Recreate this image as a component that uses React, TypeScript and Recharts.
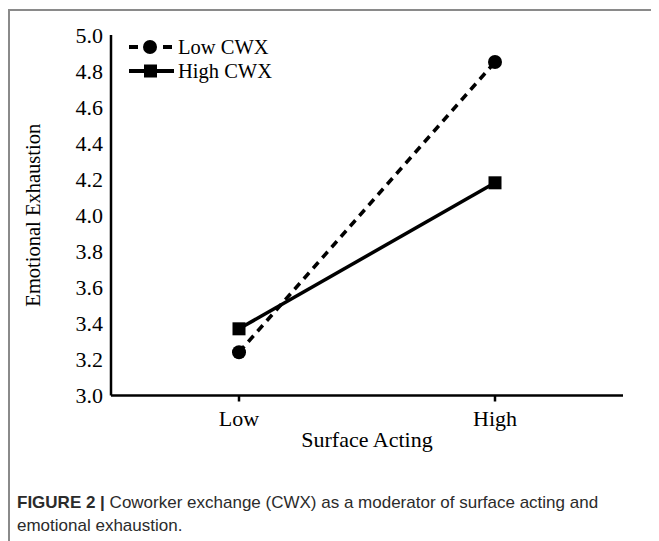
import { LineChart, Line, XAxis, YAxis, Legend } from "recharts";

const levels = ["Low", "High"];
const lowCwx = [3.24, 4.85];
const highCwx = [3.37, 4.18];
const yTicks = [3.0, 3.2, 3.4, 3.6, 3.8, 4.0, 4.2, 4.4, 4.6, 4.8, 5.0];
const seriesOrder = ["low", "high"];

const rows = levels.map((name, i) => ({ name, low: lowCwx[i], high: highCwx[i] }));

const serif = "'Liberation Serif', 'Times New Roman', serif";

const SquareDot = (props: any) => {
  const { cx, cy } = props;
  if (cx == null || cy == null) return null;
  return <rect x={cx - 6.5} y={cy - 6.5} width={13} height={13} fill="#000" />;
};

const RoundDot = (props: any) => {
  const { cx, cy } = props;
  if (cx == null || cy == null) return null;
  return <circle cx={cx} cy={cy} r={7} fill="#000" />;
};

const YLabel = ({ viewBox }: any) => {
  const x = viewBox.x + 25;
  const y = viewBox.y + viewBox.height / 2;
  return (
    <text x={x} y={y} transform={`rotate(-90 ${x} ${y})`} textAnchor="middle" dominantBaseline="central"
      fontFamily={serif} fontSize={20.5} fill="#000">
      Emotional Exhaustion
    </text>
  );
};

const XLabel = ({ viewBox }: any) => {
  const x = viewBox.x + viewBox.width / 2;
  const y = viewBox.y + 44;
  return (
    <text x={x} y={y} textAnchor="middle" dominantBaseline="central" fontFamily={serif} fontSize={22} fill="#000">
      Surface Acting
    </text>
  );
};

function LegendBox({ payload }: any) {
  const items = [...(payload || [])].sort(
    (a: any, b: any) => seriesOrder.indexOf(a.dataKey) - seriesOrder.indexOf(b.dataKey));
  return (
    <div style={{ fontFamily: serif, fontSize: 20.5, color: "#000", lineHeight: "24px" }}>
      {items.map((p: any) => (
        <div key={p.value} style={{ display: "flex", alignItems: "center", height: 24 }}>
          <svg width={48} height={20} style={{ marginRight: 1 }}>
            {p.dataKey === "low" ? (
              <g>
                <line x1={0} y1={10} x2={9} y2={10} stroke="#000" strokeWidth={4} />
                <circle cx={21} cy={10} r={7} fill="#000" />
                <line x1={34} y1={10} x2={43} y2={10} stroke="#000" strokeWidth={4} />
              </g>
            ) : (
              <g>
                <line x1={0} y1={10} x2={45} y2={10} stroke="#000" strokeWidth={4} />
                <rect x={15} y={3.5} width={13} height={13} fill="#000" />
              </g>
            )}
          </svg>
          <span>{p.value}</span>
        </div>
      ))}
    </div>
  );
}

export default function App() {
  return (
    <div style={{ position: "relative", width: 651, height: 533, background: "#fff" }}>
      <div style={{ position: "absolute", left: 0, top: 1, width: 651, height: 532,
        borderTop: "2px solid #8a8a8a", borderLeft: "2px solid #8a8a8a", boxSizing: "border-box" }} />
      <div style={{ position: "absolute", left: 0, top: 0 }}>
        <LineChart width={640} height={460} data={rows} margin={{ top: 27, right: 25, left: 0, bottom: 22.5 }}>
          <XAxis dataKey="name" padding={{ left: 128, right: 128 }} height={50} stroke="#000" strokeWidth={2.5}
            tickSize={6} tickMargin={9} tick={{ fill: "#000", fontFamily: serif, fontSize: 22 }}
            label={<XLabel />} />
          <YAxis domain={[3, 5]} ticks={yTicks} width={103} stroke="#000" strokeWidth={2.5} tickLine={false}
            tickSize={0} tickMargin={8} interval={0} tickFormatter={(v: number) => v.toFixed(1)}
            tick={{ fill: "#000", fontFamily: serif, fontSize: 22 }} label={<YLabel />} />
          <Legend layout="horizontal" verticalAlign="middle" align="center" content={<LegendBox />}
            wrapperStyle={{ left: 121, top: 27, width: 200 }} />
          <Line dataKey="low" name="Low CWX" stroke="#000" strokeWidth={3.5} strokeDasharray="8 6"
            dot={<RoundDot />} activeDot={false} isAnimationActive={false} />
          <Line dataKey="high" name="High CWX" stroke="#000" strokeWidth={3.5}
            dot={<SquareDot />} activeDot={false} isAnimationActive={false} />
        </LineChart>
      </div>
      <div style={{ position: "absolute", left: 9, top: 483, width: 630, fontFamily: "'Liberation Sans', Arial, sans-serif",
        fontSize: 17, lineHeight: "23px", color: "#2b2b2b" }}>
        <b>FIGURE 2 |</b> Coworker exchange (CWX) as a moderator of surface acting and emotional exhaustion.
      </div>
    </div>
  );
}
